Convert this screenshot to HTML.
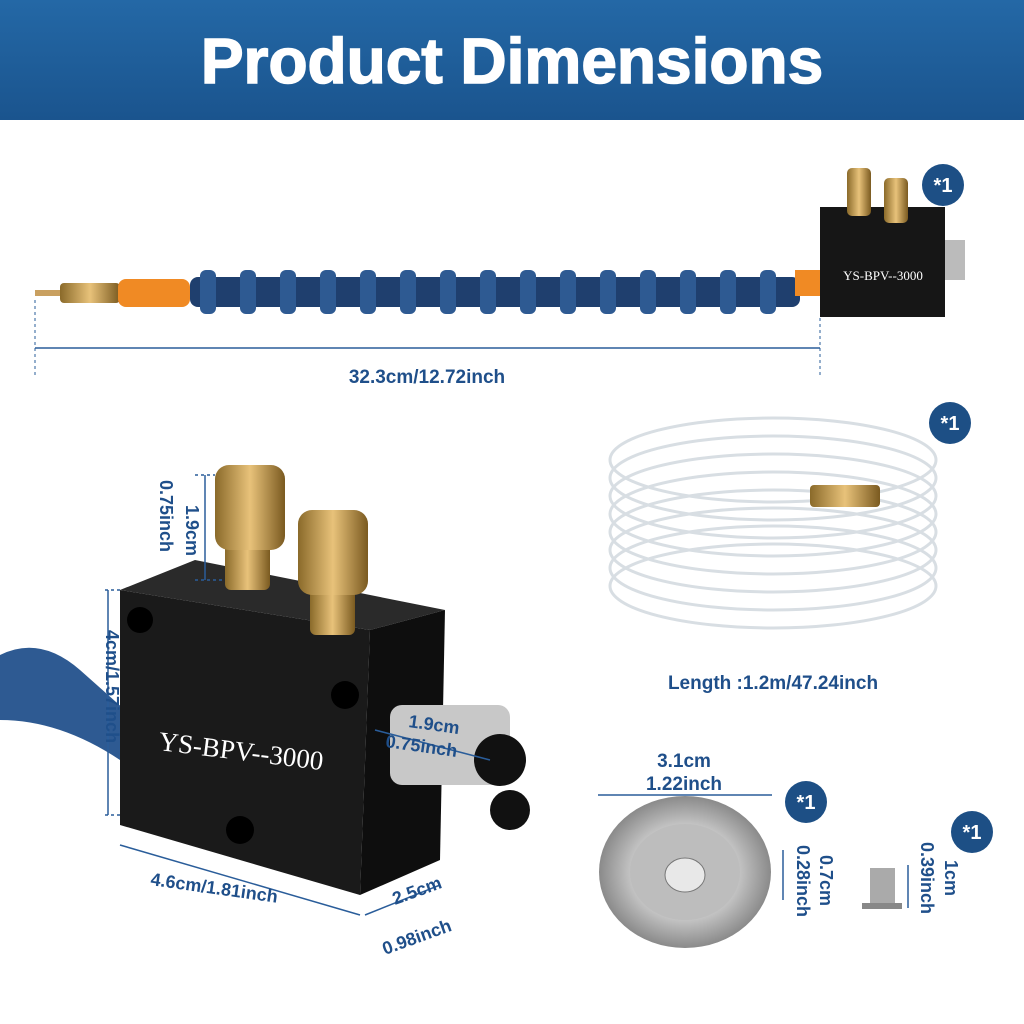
<!DOCTYPE html>
<html><head><meta charset="utf-8"><style>
html,body{margin:0;padding:0;background:#fff;}
svg{display:block;}
text{font-family:"Liberation Sans",sans-serif;font-weight:bold;}
</style></head><body>
<svg width="1024" height="1024" viewBox="0 0 1024 1024" xmlns="http://www.w3.org/2000/svg">
<defs>
<linearGradient id="hd" x1="0" y1="0" x2="0" y2="1"><stop offset="0" stop-color="#2468a6"/><stop offset="1" stop-color="#1a548e"/></linearGradient>
<linearGradient id="brass" x1="0" y1="0" x2="1" y2="0"><stop offset="0" stop-color="#8a6a2a"/><stop offset=".5" stop-color="#e8c27a"/><stop offset="1" stop-color="#7a5a20"/></linearGradient>
<radialGradient id="mag" cx=".5" cy=".5" r=".5"><stop offset="0" stop-color="#f4f4f4"/><stop offset=".6" stop-color="#c8c8c8"/><stop offset="1" stop-color="#8a8a8a"/></radialGradient>
</defs>
<rect x="0" y="0" width="1024" height="120" fill="url(#hd)"/>
<text x="512" y="83" text-anchor="middle" font-size="64" fill="#fff" stroke="#fff" stroke-width="1.5">Product Dimensions</text>

<!-- top hose -->
<rect x="35" y="290" width="30" height="6" fill="#c9a060"/>
<rect x="60" y="283" width="60" height="20" rx="4" fill="url(#brass)"/>
<rect x="118" y="279" width="72" height="28" rx="8" fill="#f08a24"/>
<rect x="190" y="277" width="610" height="30" rx="8" fill="#1f3f6e"/>
<g fill="#2e5a92">
<rect x="200" y="270" width="16" height="44" rx="6"/><rect x="240" y="270" width="16" height="44" rx="6"/><rect x="280" y="270" width="16" height="44" rx="6"/><rect x="320" y="270" width="16" height="44" rx="6"/><rect x="360" y="270" width="16" height="44" rx="6"/><rect x="400" y="270" width="16" height="44" rx="6"/><rect x="440" y="270" width="16" height="44" rx="6"/><rect x="480" y="270" width="16" height="44" rx="6"/><rect x="520" y="270" width="16" height="44" rx="6"/><rect x="560" y="270" width="16" height="44" rx="6"/><rect x="600" y="270" width="16" height="44" rx="6"/><rect x="640" y="270" width="16" height="44" rx="6"/><rect x="680" y="270" width="16" height="44" rx="6"/><rect x="720" y="270" width="16" height="44" rx="6"/><rect x="760" y="270" width="16" height="44" rx="6"/>
</g>
<rect x="795" y="270" width="25" height="26" fill="#f08a24"/>
<rect x="820" y="207" width="125" height="110" fill="#161616"/>
<rect x="945" y="240" width="20" height="40" fill="#bbb"/>
<rect x="847" y="168" width="24" height="48" rx="5" fill="url(#brass)"/>
<rect x="884" y="178" width="24" height="45" rx="5" fill="url(#brass)"/>
<text x="883" y="280" text-anchor="middle" font-size="13" fill="#fff" style="font-family:'Liberation Serif',serif;font-weight:normal">YS-BPV--3000</text>
<line x1="35" y1="300" x2="35" y2="378" stroke="#2a5d9a" stroke-dasharray="3,3"/>
<line x1="820" y1="318" x2="820" y2="378" stroke="#2a5d9a" stroke-dasharray="3,3"/>
<line x1="35" y1="348" x2="820" y2="348" stroke="#2a5d9a" stroke-width="1.5"/>
<text x="427" y="383" text-anchor="middle" font-size="19" fill="#1f4f8a">32.3cm/12.72inch</text>

<!-- badges -->
<g fill="#1d4f85"><circle cx="943" cy="185" r="21"/><circle cx="950" cy="423" r="21"/><circle cx="806" cy="802" r="21"/><circle cx="972" cy="832" r="21"/></g>
<g fill="#fff" font-size="20" text-anchor="middle"><text x="943" y="192">*1</text><text x="950" y="430">*1</text><text x="806" y="809">*1</text><text x="972" y="839">*1</text></g>

<!-- big block -->
<path d="M0 655 Q40 635 80 670 L125 710 L120 760 Q60 720 0 720Z" fill="#2e5a92"/>
<polygon points="120,590 195,560 445,610 370,630" fill="#2a2a2a"/>
<polygon points="120,590 370,630 360,895 120,825" fill="#1a1a1a"/>
<polygon points="370,630 445,610 440,860 360,895" fill="#0e0e0e"/>
<circle cx="140" cy="620" r="13" fill="#000"/><circle cx="345" cy="695" r="14" fill="#000"/><circle cx="240" cy="830" r="14" fill="#000"/>
<text x="240" y="760" text-anchor="middle" font-size="27" fill="#fff" transform="rotate(7 240 760)" style="font-family:'Liberation Serif',serif;font-weight:normal">YS-BPV--3000</text>
<rect x="390" y="705" width="120" height="80" rx="12" fill="#c8c8c8"/>
<circle cx="500" cy="760" r="26" fill="#111"/><circle cx="510" cy="810" r="20" fill="#111"/>
<rect x="225" y="480" width="45" height="110" rx="6" fill="url(#brass)"/>
<rect x="215" y="465" width="70" height="85" rx="14" fill="url(#brass)"/>
<rect x="310" y="550" width="45" height="85" rx="6" fill="url(#brass)"/>
<rect x="298" y="510" width="70" height="85" rx="14" fill="url(#brass)"/>
<g stroke="#2a5d9a" stroke-width="1.5" fill="none">
<line x1="195" y1="475" x2="215" y2="475" stroke-dasharray="3,3"/><line x1="195" y1="580" x2="225" y2="580" stroke-dasharray="3,3"/><line x1="205" y1="475" x2="205" y2="580"/>
<line x1="105" y1="590" x2="120" y2="590" stroke-dasharray="3,3"/><line x1="105" y1="815" x2="120" y2="815" stroke-dasharray="3,3"/><line x1="108" y1="590" x2="108" y2="815"/>
<line x1="120" y1="845" x2="360" y2="915"/><line x1="365" y1="915" x2="440" y2="885"/>
<line x1="375" y1="730" x2="490" y2="760"/>
</g>
<g font-size="18" fill="#1f4f8a">
<text transform="translate(186,505) rotate(90)">1.9cm</text><text transform="translate(160,480) rotate(90)">0.75inch</text>
<text transform="translate(106,630) rotate(90)">4cm/1.57inch</text>
<text x="150" y="885" transform="rotate(8 150 885)">4.6cm/1.81inch</text>
<text x="395" y="905" transform="rotate(-20 395 905)">2.5cm</text><text x="385" y="955" transform="rotate(-20 385 955)">0.98inch</text>
<text x="408" y="727" transform="rotate(8 408 727)">1.9cm</text><text x="385" y="747" transform="rotate(8 385 747)">0.75inch</text>
</g>

<!-- coil -->
<g fill="none" stroke="#d8dee3" stroke-width="3">
<ellipse cx="773" cy="460" rx="163" ry="42"/><ellipse cx="773" cy="478" rx="163" ry="42"/><ellipse cx="773" cy="496" rx="163" ry="42"/><ellipse cx="773" cy="514" rx="163" ry="42"/><ellipse cx="773" cy="532" rx="163" ry="42"/><ellipse cx="773" cy="550" rx="163" ry="42"/><ellipse cx="773" cy="568" rx="163" ry="42"/><ellipse cx="773" cy="586" rx="163" ry="42"/>
</g>
<rect x="810" y="485" width="70" height="22" rx="4" fill="url(#brass)"/>
<text x="773" y="689" text-anchor="middle" font-size="19" fill="#1f4f8a">Length :1.2m/47.24inch</text>

<!-- magnet -->
<ellipse cx="685" cy="872" rx="86" ry="76" fill="url(#mag)"/>
<ellipse cx="685" cy="872" rx="55" ry="48" fill="#bdbdbd"/>
<ellipse cx="685" cy="875" rx="20" ry="17" fill="#e8e8e8" stroke="#777"/>
<line x1="598" y1="795" x2="772" y2="795" stroke="#2a5d9a" stroke-width="1.5"/>
<text x="684" y="767" text-anchor="middle" font-size="19" fill="#1f4f8a">3.1cm</text>
<text x="684" y="790" text-anchor="middle" font-size="19" fill="#1f4f8a">1.22inch</text>
<line x1="783" y1="850" x2="783" y2="900" stroke="#2a5d9a" stroke-width="1.5"/>
<g font-size="18" fill="#1f4f8a"><text transform="translate(820,855) rotate(90)">0.7cm</text><text transform="translate(797,845) rotate(90)">0.28inch</text>
<text transform="translate(945,860) rotate(90)">1cm</text><text transform="translate(921,842) rotate(90)">0.39inch</text></g>
<rect x="870" y="868" width="25" height="38" fill="#aaa"/>
<rect x="862" y="903" width="40" height="6" fill="#888"/>
<line x1="908" y1="865" x2="908" y2="908" stroke="#2a5d9a" stroke-width="1.5"/>
</svg>
</body></html>
